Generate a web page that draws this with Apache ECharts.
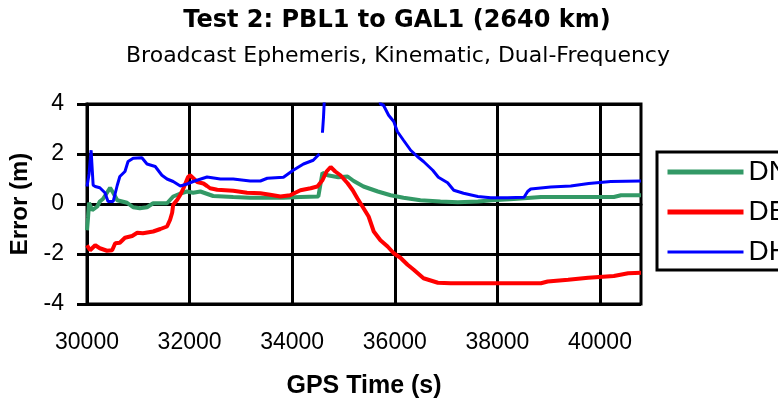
<!DOCTYPE html>
<html>
<head>
<meta charset="utf-8">
<script src="https://cdn.jsdelivr.net/npm/echarts@6/dist/echarts.min.js"></script>
<style>
  html, body { margin: 0; padding: 0; background: #fff; }
  #chart { width: 778px; height: 400px; }
</style>
</head>
<body>
<div id="chart"></div>
<script>
// GPS time (s), error (m)
const seriesNames = ['DN', 'DE', 'DH'];
const xTicks = [30000, 32000, 34000, 36000, 38000, 40000];

const dnData = [
  [30000, -1.05], [30020, -0.55], [30040, 0.05], [30100, -0.25], [30200, -0.1],
  [30250, 0.1], [30310, 0.2], [30390, 0.45], [30450, 0.65], [30510, 0.45],
  [30590, 0.15], [30780, 0.05], [30900, -0.13], [31030, -0.17], [31170, -0.13],
  [31290, 0.03], [31560, 0.03], [31680, 0.3], [31820, 0.42], [31950, 0.5],
  [32070, 0.45], [32210, 0.5], [32460, 0.32], [32850, 0.28], [33180, 0.25],
  [33830, 0.25], [34160, 0.28], [34510, 0.3], [34590, 1.25], [34690, 1.15],
  [34900, 1.07], [35080, 1.1], [35200, 0.92], [35390, 0.7], [35670, 0.5],
  [35920, 0.35], [36170, 0.25], [36500, 0.15], [36890, 0.1], [37230, 0.07],
  [37620, 0.1], [37900, 0.15], [38320, 0.2], [38850, 0.28], [40270, 0.28],
  [40410, 0.35], [40800, 0.35]
];

const deData = [
  [30000, -1.65], [30060, -1.85], [30160, -1.65], [30250, -1.77], [30390, -1.87],
  [30490, -1.85], [30550, -1.57], [30640, -1.55], [30740, -1.35], [30880, -1.28],
  [30980, -1.15], [31090, -1.17], [31290, -1.1], [31430, -1.0], [31560, -0.9],
  [31620, -0.63], [31660, -0.35], [31680, -0.03], [31760, 0.17], [31820, 0.37],
  [31880, 0.63], [31970, 1.08], [32010, 1.15], [32150, 0.88], [32270, 0.82],
  [32340, 0.72], [32400, 0.63], [32540, 0.57], [32850, 0.53], [33120, 0.45],
  [33380, 0.43], [33570, 0.37], [33770, 0.3], [33960, 0.35], [34160, 0.55],
  [34360, 0.63], [34490, 0.7], [34590, 0.95], [34670, 1.3], [34750, 1.48],
  [34840, 1.3], [34940, 1.15], [35080, 0.83], [35180, 0.55], [35270, 0.23],
  [35370, -0.1], [35490, -0.5], [35590, -1.1], [35720, -1.45], [35860, -1.7],
  [35980, -1.97], [36110, -2.15], [36250, -2.43], [36370, -2.63], [36560, -2.97],
  [36840, -3.15], [37090, -3.17], [37730, -3.17], [38260, -3.17], [38850, -3.17],
  [38980, -3.1], [39380, -3.03], [39770, -2.95], [40270, -2.88], [40550, -2.77],
  [40800, -2.75]
];

const dhData = [
  [30000, 0.7], [30040, 1.2], [30080, 2.15], [30120, 0.75], [30160, 0.7],
  [30250, 0.65], [30350, 0.45], [30410, 0.1], [30510, 0.1], [30590, 0.75],
  [30640, 1.1], [30740, 1.3], [30800, 1.7], [30900, 1.83], [31070, 1.85],
  [31170, 1.6], [31330, 1.5], [31460, 1.15], [31560, 1.0], [31680, 0.9],
  [31820, 0.72], [31950, 0.8], [32070, 0.9], [32340, 1.08], [32600, 1.0],
  [32850, 1.0], [33180, 0.92], [33380, 0.92], [33515, 1.03], [33830, 1.07],
  [34020, 1.35], [34220, 1.6], [34410, 1.75], [34530, 2.0], [34560, null],
  [34590, 2.85], [34610, 3.45], [34630, 4.3], [34800, 5.5], [35200, 6.0],
  [35500, 5.0], [35700, 4.3], [35720, 4.0], [35780, 3.95], [35880, 3.55],
  [35980, 3.3], [36050, 2.9], [36170, 2.55], [36310, 2.15], [36440, 1.9],
  [36560, 1.7], [36740, 1.35], [36850, 1.07], [37030, 0.85], [37150, 0.55],
  [37340, 0.43], [37620, 0.3], [37870, 0.25], [38200, 0.25], [38520, 0.27],
  [38590, 0.5], [38650, 0.6], [39040, 0.68], [39430, 0.72], [39780, 0.82],
  [40210, 0.9], [40800, 0.92]
];

const chart = echarts.init(document.getElementById('chart'), null, { renderer: 'canvas' });

const labelFont = "'Liberation Sans', Arial, sans-serif";

chart.setOption({
  animation: false,
  backgroundColor: '#fff',
  title: [
    {
      text: 'Test 2: PBL1 to GAL1 (2640 km)',
      left: 392,
      top: 4,
      textAlign: 'center',
      textStyle: { fontFamily: "'DejaVu Sans', sans-serif", fontWeight: 'bold', fontSize: 24, color: '#000' }
    },
    {
      text: 'Broadcast Ephemeris, Kinematic, Dual-Frequency',
      left: 393,
      top: 40,
      textAlign: 'center',
      textStyle: { fontFamily: "'DejaVu Sans', sans-serif", fontWeight: 'normal', fontSize: 22, color: '#000' }
    }
  ],
  legend: {
    data: [
      { name: seriesNames[0], lineStyle: { width: 5 } },
      { name: seriesNames[1], lineStyle: { width: 5 } },
      { name: seriesNames[2], lineStyle: { width: 3 } }
    ],
    orient: 'vertical',
    left: 657,
    top: 152,
    padding: [6, 8, 4, 8],
    borderColor: '#000',
    borderWidth: 3,
    itemWidth: 76,
    itemHeight: 14,
    itemGap: 12,
    itemStyle: { opacity: 0 },
    textStyle: { fontFamily: labelFont, fontSize: 28, color: '#000' }
  },
  grid: {
    left: 87,
    right: 137,
    top: 104,
    bottom: 96,
    show: true,
    borderColor: '#000',
    borderWidth: 3
  },
  xAxis: {
    type: 'value',
    min: 30000,
    max: 40800,
    interval: 2000,
    name: 'GPS Time (s)',
    nameLocation: 'middle',
    nameGap: 70,
    nameTextStyle: { fontFamily: labelFont, fontWeight: 'bold', fontSize: 25, color: '#000' },
    axisLine: { show: true, lineStyle: { color: '#000', width: 3 } },
    axisTick: { show: true, length: 10, lineStyle: { color: '#000', width: 3 }, customValues: xTicks },
    axisLabel: {
      margin: 27, fontFamily: labelFont, fontSize: 23, color: '#000', customValues: xTicks,
      formatter: (val) => String(val)
    },
    splitLine: { show: true, lineStyle: { color: '#000', width: 3 } }
  },
  yAxis: {
    type: 'value',
    min: -4,
    max: 4,
    interval: 2,
    name: 'Error (m)',
    nameLocation: 'middle',
    nameGap: 55,
    nameTextStyle: { fontFamily: labelFont, fontWeight: 'bold', fontSize: 24, color: '#000' },
    axisLine: { show: true, lineStyle: { color: '#000', width: 3 } },
    axisTick: { show: true, length: 10, lineStyle: { color: '#000', width: 3 } },
    axisLabel: { margin: 23, fontFamily: labelFont, fontSize: 23, color: '#000' },
    splitLine: { show: true, lineStyle: { color: '#000', width: 3 } }
  },
  series: [
    {
      name: 'DN', type: 'line', data: dnData, showSymbol: false, symbol: 'none',
      lineStyle: { color: '#339966', width: 4 }, itemStyle: { color: '#339966' }, clip: true
    },
    {
      name: 'DE', type: 'line', data: deData, showSymbol: false, symbol: 'none',
      lineStyle: { color: '#ff0000', width: 4 }, itemStyle: { color: '#ff0000' }, clip: true
    },
    {
      name: 'DH', type: 'line', data: dhData, showSymbol: false, symbol: 'none', connectNulls: false,
      lineStyle: { color: '#0000ff', width: 3 }, itemStyle: { color: '#0000ff' }, clip: true
    }
  ]
});
</script>
</body>
</html>
